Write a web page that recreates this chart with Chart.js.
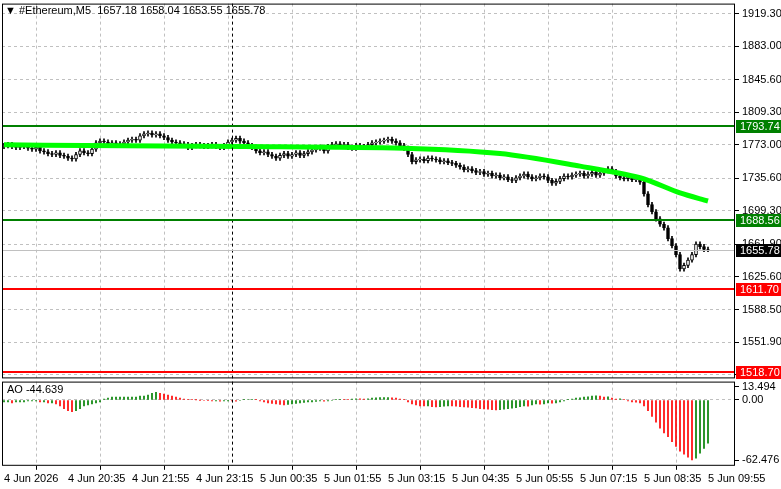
<!DOCTYPE html>
<html>
<head>
<meta charset="utf-8">
<script src="https://cdn.jsdelivr.net/npm/chart.js@4.4.1/dist/chart.umd.min.js"></script>
<style>
  body { margin: 0; background: #fff; }
  #wrap { position: relative; width: 781px; height: 489px; overflow: hidden; }
  #mainBox { position: absolute; left: 0; top: -6px; width: 781px; height: 394px; }
  #aoBox { position: absolute; left: 0; top: 372px; width: 781px; height: 117px; }
</style>
</head>
<body>
<div id="wrap">
  <div id="mainBox"><canvas id="mainChart"></canvas></div>
  <div id="aoBox"><canvas id="aoChart"></canvas></div>
</div>
<script>
// close prices per 5-minute bar, 4 Jun 19:15 .. 5 Jun 09:55
const closes = [
  1772,1773,1771,1770,1772,1771,1769,1768,1770,1766,1765,1763,1762,1764,1761,1760,
  1758,1757,1762,1766,1764,1763,1768,1775,1777,1776,1774,1775,1773,1774,1776,1778,
  1779,1778,1783,1785,1786,1784,1785,1783,1781,1778,1776,1775,1774,1773,1770,1772,
  1773,1772,1771,1772,1773,1771,1770,1772,1776,1778,1780,1777,1775,1772,1770,1766,
  1764,1765,1762,1760,1758,1761,1763,1760,1762,1764,1761,1763,1765,1767,1769,1770,
  1766,1771,1773,1774,1772,1773,1770,1769,1772,1771,1770,1773,1775,1776,1777,1778,
  1779,1777,1775,1772,1769,1762,1754,1756,1757,1755,1758,1757,1756,1754,1755,1753,
  1752,1750,1748,1745,1746,1744,1742,1743,1740,1741,1738,1739,1736,1737,1734,1733,
  1736,1738,1740,1737,1735,1736,1738,1737,1733,1730,1732,1735,1738,1737,1739,1740,
  1741,1738,1740,1742,1739,1741,1744,1746,1743,1738,1736,1735,1737,1734,1735,1731,
  1718,1706,1698,1690,1684,1680,1668,1660,1650,1634,1638,1644,1650,1662,1659,1656,1655.78
];
const firstOpen = 1771;
const wick = 2.5;

// moving average (bar index, value)
const maIdx = [0, 20, 60, 100, 124, 144, 159, 169, 176];
const maVal = [1773, 1772, 1771, 1769, 1763, 1749, 1736, 1719, 1710];

// Awesome Oscillator per bar
const ao = [
  -2,-2,-3,-2,-2,-2,-1,-1,-1,-2,-2,-3,-3,-4,-6,-9,
  -11,-12,-11,-9,-6,-5,-4,-3,-2,1,2,3,3,3,3,3,
  3,3,4,4,5,7,8,7,6,5,4,3,2,1,0.3,0.2,
  0.1,-0.2,-0.5,-0.6,-1,-1,-1.1,-1,-0.9,-1,-1.1,-0.5,0.2,0.5,0.6,0.2,
  -1,-2,-3,-3.5,-4,-4.5,-5,-4.5,-4,-3.5,-3,-2.5,-2,-2,-1.5,-1,
  -1.2,-1,-0.5,0.2,0.4,0.3,0.2,1,1.2,1.1,1,1.3,2,2.2,2.4,2.5,
  2.6,2.2,2,1,0.2,-2,-4,-5,-6,-6.2,-6,-7,-7.2,-7,-6.5,-6,
  -6.2,-6.4,-7,-7.2,-7.5,-8,-8.3,-9,-9.2,-9.4,-10,-10.2,-10,-9.5,-9,-8.4,
  -8,-7,-6,-6.3,-5,-4,-4.2,-4,-3,-3.2,-3,-2,-1,0.4,1,2,
  2.2,3,3.2,4,4.2,4,3,3.2,2,1,1.2,0.3,-1,-2,-2.2,-3,
  -6,-11,-17,-23,-29,-34,-38,-43,-48,-53,-56,-59,-62,-60,-55,-50,-44.639
];

const priceTicks = [1919.30, 1883.00, 1845.60, 1809.30, 1773.00, 1735.60, 1699.30, 1661.90, 1625.60, 1588.50, 1551.90, 1515.60];
const aoTicks = [13.494, 0, -62.476];
const timeIdx = [0, 16, 32, 48, 64, 80, 96, 112, 128, 144, 160, 176];
const timeLabels = ['4 Jun 2026', '4 Jun 20:35', '4 Jun 21:55', '4 Jun 23:15', '5 Jun 00:35', '5 Jun 01:55',
  '5 Jun 03:15', '5 Jun 04:35', '5 Jun 05:55', '5 Jun 07:15', '5 Jun 08:35', '5 Jun 09:55'];

const levels = [
  { v: 1793.74, line: '#008000', box: '#008000', w: 2 },
  { v: 1688.56, line: '#008000', box: '#008000', w: 2 },
  { v: 1611.70, line: '#ff0000', box: '#ff0000', w: 2 },
  { v: 1518.70, line: '#ff0000', box: '#ff0000', w: 2 },
  { v: 1655.78, line: '#c0c0c0', box: '#000000', w: 1 }
];
const vlineIdx = 57;

const FAMILY = 'Liberation Sans';
const FONT = '11px "Liberation Sans", sans-serif';
const XMIN = -0.5, XMAX = 182.75;

let bodies = [], wicks = [], bodyFill = [];
closes.forEach((c, i) => {
  const o = i === 0 ? firstOpen : closes[i - 1];
  bodies.push({ x: i, y: [o, c] });
  wicks.push({ x: i, y: [Math.min(o, c) - wick, Math.max(o, c) + wick] });
  bodyFill.push(c >= o ? '#ffffff' : '#000000');
});
const maData = maIdx.map((x, i) => ({ x: x, y: maVal[i] }));
const aoData = ao.map((v, i) => ({ x: i, y: [0, v] }));
const aoColors = ao.map((v, i) => (i > 0 && v < ao[i - 1]) ? '#ff0000' : '#008000');

const gridDash = { color: '#c0c0c0', lineWidth: 1, tickColor: '#000', tickLength: 4, drawTicks: true };

const framePlugin = {
  id: 'frame',
  afterDatasetsDraw(chart, args, opts) {
    const ctx = chart.ctx, a = chart.chartArea;
    const y = chart.scales.y, x = chart.scales.x;
    ctx.save();
    const vx = Math.round(x.getPixelForValue(vlineIdx)) + 0.5;
    ctx.strokeStyle = '#000'; ctx.setLineDash([3, 3]); ctx.lineWidth = 1;
    ctx.beginPath(); ctx.moveTo(vx, a.top); ctx.lineTo(vx, a.bottom); ctx.stroke();
    ctx.setLineDash([]);
    ctx.font = FONT; ctx.textBaseline = 'middle'; ctx.fillStyle = '#000'; ctx.textAlign = 'left';
    if (opts.main) {
      levels.forEach(l => {
        const py = Math.round(y.getPixelForValue(l.v)) + (l.w === 1 ? 0.5 : 0);
        ctx.strokeStyle = l.line; ctx.lineWidth = l.w;
        ctx.beginPath(); ctx.moveTo(a.left, py); ctx.lineTo(a.right, py); ctx.stroke();
      });
      ctx.fillText('\u25BC #Ethereum,M5  1657.18 1658.04 1653.55 1655.78', 5, a.top + 7);
    } else {
      ctx.fillText('AO -44.639', 7, a.top + 8);
    }
    ctx.strokeStyle = '#000'; ctx.lineWidth = 1;
    ctx.strokeRect(a.left + 0.5, a.top + 0.5, a.right - a.left - 1, a.bottom - a.top - 1);
    ctx.restore();
  },
  afterDraw(chart, args, opts) {
    if (!opts.main) return;
    const ctx = chart.ctx, a = chart.chartArea, y = chart.scales.y;
    ctx.save();
    ctx.font = FONT; ctx.textBaseline = 'middle'; ctx.textAlign = 'left';
    levels.forEach(l => {
      const py = Math.round(y.getPixelForValue(l.v));
      ctx.fillStyle = l.box;
      ctx.fillRect(a.right + 1, py - 6, 45, 13);
      ctx.fillStyle = '#fff';
      ctx.fillText(l.v.toFixed(2), a.right + 5, py + 0.5);
    });
    ctx.restore();
  }
};

new Chart(document.getElementById('mainChart'), {
  type: 'bar',
  data: {
    datasets: [
      { type: 'line', data: maData, borderColor: '#00ff00', borderWidth: 5, pointRadius: 0, tension: 0.3, order: 0 },
      { data: wicks, backgroundColor: '#000', barThickness: 1, grouped: false, order: 2 },
      { data: bodies, backgroundColor: bodyFill, borderColor: '#000', borderWidth: 1, borderSkipped: false, barThickness: 3, grouped: false, order: 1 }
    ]
  },
  options: {
    responsive: true, maintainAspectRatio: false, animation: false,
    layout: { padding: { left: 2, top: 4, bottom: 0, right: 0 } },
    plugins: { legend: { display: false }, tooltip: { enabled: false }, frame: { main: true } },
    scales: {
      x: {
        type: 'linear', min: XMIN, max: XMAX, offset: false,
        afterBuildTicks: s => { s.ticks = timeIdx.map(v => ({ value: v })); },
        afterFit: s => { s.height = 0; },
        ticks: { display: false },
        grid: { color: '#c0c0c0', drawTicks: false },
        border: { display: false, dash: [3, 3] }
      },
      y: {
        position: 'right', min: 1511.7, max: 1930.7,
        afterBuildTicks: s => { s.ticks = priceTicks.map(v => ({ value: v })); },
        afterFit: s => { s.width = 46; },
        ticks: { color: '#000', font: { family: FAMILY, size: 11 }, padding: 3, callback: v => v.toFixed(2) },
        grid: gridDash,
        border: { display: false, dash: [3, 3] }
      }
    }
  },
  plugins: [framePlugin]
});

new Chart(document.getElementById('aoChart'), {
  type: 'bar',
  data: {
    datasets: [{ data: aoData, backgroundColor: aoColors, barThickness: 1 }]
  },
  options: {
    responsive: true, maintainAspectRatio: false, animation: false,
    layout: { padding: { left: 2, top: 0, bottom: 0, right: 0 } },
    plugins: { legend: { display: false }, tooltip: { enabled: false }, frame: { main: false } },
    scales: {
      x: {
        type: 'linear', min: XMIN, max: XMAX, offset: false,
        afterBuildTicks: s => { s.ticks = timeIdx.map(v => ({ value: v })); },
        ticks: {
          color: '#000', font: { family: FAMILY, size: 11 }, align: 'start', maxRotation: 0, autoSkip: false, padding: 3,
          callback: (v) => timeLabels[timeIdx.indexOf(v)]
        },
        grid: gridDash,
        border: { display: false, dash: [3, 3] }
      },
      y: {
        position: 'right', min: -68, max: 19,
        afterBuildTicks: s => { s.ticks = aoTicks.map(v => ({ value: v })); },
        afterFit: s => { s.width = 46; },
        ticks: { color: '#000', font: { family: FAMILY, size: 11 }, padding: 3,
          callback: v => v === 0 ? '0.00' : v.toFixed(3) },
        grid: { color: ctx => ctx.tick && ctx.tick.value === 0 ? '#c0c0c0' : 'rgba(0,0,0,0)', tickColor: '#000', tickLength: 4 },
        border: { display: false, dash: [3, 3] }
      }
    }
  },
  plugins: [framePlugin]
});
</script>
</body>
</html>
